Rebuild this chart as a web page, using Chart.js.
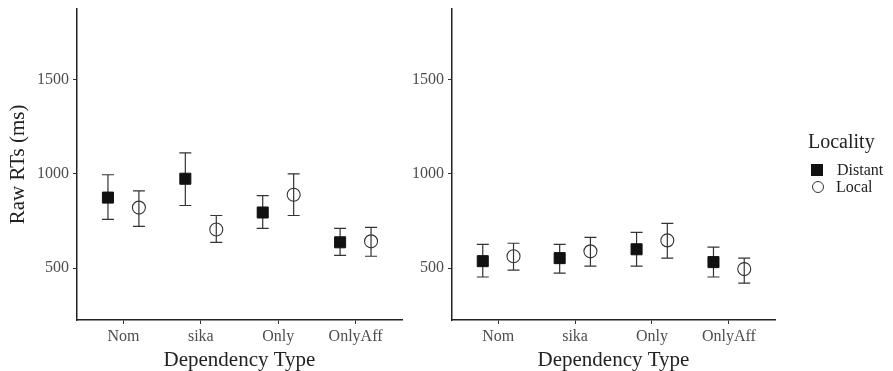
<!DOCTYPE html>
<html>
<head>
<meta charset="utf-8">
<script src="https://cdn.jsdelivr.net/npm/chart.js@4.4.0/dist/chart.umd.min.js"></script>
<style>
  body { margin: 0; background: #fff; }
  #wrap { position: relative; width: 893px; height: 371px; font-family: "Liberation Serif", serif; }
  #c1 { position: absolute; left: 0; top: 0; }
  #c2 { position: absolute; left: 400px; top: 0; }
  #legend { position: absolute; left: 808px; top: 130px; color: #222; white-space: nowrap; }
  #legend .title { font-size: 20px; height: 23px; line-height: 23px; margin-bottom: 8px; }
  #legend .row { font-size: 16px; height: 17px; line-height: 17px; display: flex; align-items: center; }
  #legend .sq { width: 12px; height: 12px; background: #111; margin: 0 14px 0 3px; }
  #legend .ci { width: 12px; height: 12px; border: 1px solid #333; border-radius: 50%; margin: 0 12px 0 4px; box-sizing: border-box; }
</style>
</head>
<body>
<div id="wrap">
  <canvas id="c1" width="420" height="371"></canvas>
  <canvas id="c2" width="493" height="371"></canvas>
  <div id="legend">
    <div class="title">Locality</div>
    <div class="row"><span class="sq"></span>Distant</div>
    <div class="row"><span class="ci"></span>Local</div>
  </div>
</div>
<script>
// Data
const categories = ['Nom', 'sika', 'Only', 'OnlyAff'];
const yTicks = [500, 1000, 1500];

// left panel
const leftDistant = [874, 974, 795, 637];
const leftDistantLow = [758, 832, 711, 568];
const leftDistantHigh = [995, 1111, 884, 711];
const leftLocal = [821, 705, 889, 642];
const leftLocalLow = [721, 637, 779, 563];
const leftLocalHigh = [910, 779, 1000, 716];

// right panel
const rightDistant = [537, 553, 600, 532];
const rightDistantLow = [453, 474, 511, 453];
const rightDistantHigh = [626, 626, 690, 611];
const rightLocal = [563, 589, 647, 495];
const rightLocalLow = [489, 511, 553, 421];
const rightLocalHigh = [632, 663, 737, 553];

const dodge = 0.2;
const serif = '"Liberation Serif", serif';

// error bars drawn under the points
const errorBars = {
    id: 'errorBars',
    beforeDatasetsDraw(chart) {
        const ctx = chart.ctx;
        const xs = chart.scales.x, ys = chart.scales.y;
        ctx.save();
        ctx.strokeStyle = '#333';
        ctx.lineWidth = 1.2;
        chart.data.datasets.forEach(ds => {
            ds.data.forEach(p => {
                const x = xs.getPixelForValue(p.x);
                const y1 = ys.getPixelForValue(p.lo);
                const y2 = ys.getPixelForValue(p.hi);
                ctx.beginPath();
                ctx.moveTo(x, y1); ctx.lineTo(x, y2);
                ctx.moveTo(x - 6, y1); ctx.lineTo(x + 6, y1);
                ctx.moveTo(x - 6, y2); ctx.lineTo(x + 6, y2);
                ctx.stroke();
            });
        });
        ctx.restore();
    }
};

function points(means, lows, highs, shift) {
    return means.map((m, i) => ({ x: i + 1 + shift, y: m, lo: lows[i], hi: highs[i] }));
}

function makePanel(id, distant, dLow, dHigh, local, lLow, lHigh, yWidth, rightPad, showTitle) {
    return new Chart(document.getElementById(id), {
        type: 'scatter',
        data: {
            datasets: [{
                label: 'Distant',
                data: points(distant, dLow, dHigh, -dodge),
                pointStyle: 'rect',
                pointRadius: 7.8,
                backgroundColor: '#111',
                borderColor: '#111',
                borderWidth: 1
            }, {
                label: 'Local',
                data: points(local, lLow, lHigh, dodge),
                pointStyle: 'circle',
                pointRadius: 6.5,
                backgroundColor: 'rgba(0,0,0,0)',
                borderColor: '#333',
                borderWidth: 1.1
            }]
        },
        options: {
            responsive: false,
            animation: false,
            layout: { padding: { top: 7, right: rightPad, left: 0, bottom: 0 } },
            scales: {
                x: {
                    type: 'linear',
                    min: 0.4,
                    max: 4.6,
                    afterBuildTicks: s => { s.ticks = categories.map((c, i) => ({ value: i + 1 })); },
                    afterFit: s => { s.height = 51; s.paddingLeft = 0; s.paddingRight = 0; },
                    ticks: {
                        callback: v => categories[v - 1],
                        color: '#4d4d4d',
                        font: { family: serif, size: 16 },
                        padding: 3
                    },
                    grid: { drawOnChartArea: false, tickLength: 4, color: '#333' },
                    border: { display: true, color: '#222', width: 1.5 },
                    title: {
                        display: true,
                        text: 'Dependency Type',
                        color: '#222',
                        font: { family: serif, size: 21 },
                        padding: { top: 0, bottom: -2 }
                    }
                },
                y: {
                    min: 225,
                    max: 1875,
                    afterBuildTicks: s => { s.ticks = yTicks.map(v => ({ value: v })); },
                    afterFit: s => { s.width = yWidth; s.paddingTop = 0; s.paddingBottom = 0; },
                    ticks: {
                        callback: v => String(v),
                        color: '#4d4d4d',
                        font: { family: serif, size: 16 },
                        padding: 4
                    },
                    grid: { drawOnChartArea: false, tickLength: 4, color: '#333' },
                    border: { display: true, color: '#222', width: 1.5 },
                    title: {
                        display: showTitle,
                        text: 'Raw RTs (ms)',
                        color: '#222',
                        font: { family: serif, size: 21 },
                        padding: { top: 6, bottom: 0 }
                    }
                }
            },
            plugins: {
                legend: { display: false },
                tooltip: { enabled: false }
            }
        },
        plugins: [errorBars]
    });
}

makePanel('c1', leftDistant, leftDistantLow, leftDistantHigh, leftLocal, leftLocalLow, leftLocalHigh, 77, 18, true);
makePanel('c2', rightDistant, rightDistantLow, rightDistantHigh, rightLocal, rightLocalLow, rightLocalHigh, 52, 118, false);
</script>
</body>
</html>
